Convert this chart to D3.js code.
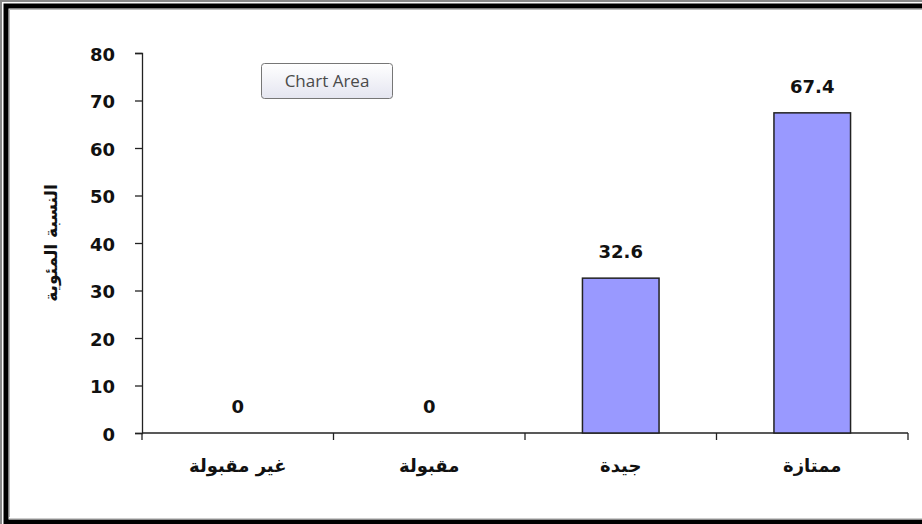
<!DOCTYPE html>
<html>
  <head>
    <meta charset="utf-8">
    <title>النسبة المئوية</title>
    <script src="https://cdn.jsdelivr.net/npm/d3@7"></script>
    <style>
      body { margin: 0; background: #fff; }
      svg { display: block; }
    </style>
  </head>
  <body>
    <script>

      // data
      var categories = ["غير مقبولة", "مقبولة", "جيدة", "ممتازة"];
      var values = [0, 0, 32.6, 67.4];
      var yTicks = [0, 10, 20, 30, 40, 50, 60, 70, 80];
      var yTitle = "النسبة المئوية";

      var width = 922, height = 524;
      var margin = {top: 53, left: 142, right: 14, bottom: 91};

      var rows = categories.map(function(c, i) { return {cat: c, value: values[i]}; });

      var svg = d3.select("body")
                  .append("svg")
                  .attr("width", width)
                  .attr("height", height);

      // frame round the chart (right side is cut off in the original)
      svg.append("path").attr("d", "M1,524V1H930").attr("fill", "none")
         .attr("stroke", "#8a8a8a").attr("stroke-width", 2);
      svg.append("path").attr("d", "M6,524V6H930").attr("fill", "none")
         .attr("stroke", "#000").attr("stroke-width", 5);
      svg.append("path").attr("d", "M9.5,517V9.5H930").attr("fill", "none")
         .attr("stroke", "#bbb").attr("stroke-width", 1);
      svg.append("line").attr("x1", 6).attr("x2", 930).attr("y1", 522).attr("y2", 522)
         .attr("stroke", "#000").attr("stroke-width", 5);
      svg.append("line").attr("x1", 9).attr("x2", 930).attr("y1", 519).attr("y2", 519)
         .attr("stroke", "#999").attr("stroke-width", 1);

      var x = d3.scaleBand()
                .domain(categories)
                .range([margin.left, width - margin.right])
                .paddingInner(0.6)
                .paddingOuter(0.3);

      var xEdges = d3.scaleBand()
                .domain(categories)
                .range([margin.left, width - margin.right]);

      var y = d3.scaleLinear()
                .domain([0, 80])
                .range([height - margin.bottom, margin.top]);

      var font = "'DejaVu Sans', sans-serif";

      // y axis
      var yAxis = svg.append("g")
                     .attr("transform", "translate(" + margin.left + ",0)")
                     .call(d3.axisLeft(y).tickValues(yTicks).tickSize(7).tickPadding(20));
      yAxis.select(".domain").attr("stroke", "#222").attr("stroke-width", 1.3);
      yAxis.selectAll(".tick line").attr("stroke", "#222").attr("stroke-width", 1.3);
      yAxis.selectAll(".tick text")
           .attr("font-family", font)
           .attr("font-weight", "bold")
           .attr("font-size", 18)
           .attr("fill", "#111")
           .attr("dy", "0.40em");

      // x axis: ticks sit between the categories
      var xg = svg.append("g").attr("transform", "translate(0," + y(0) + ")");
      xg.append("line")
        .attr("x1", margin.left).attr("x2", width - margin.right)
        .attr("stroke", "#222").attr("stroke-width", 1.3);
      var edges = categories.map(function(c) { return xEdges(c); });
      edges.push(xEdges(categories[categories.length - 1]) + xEdges.bandwidth());
      xg.selectAll(".xtick")
        .data(edges)
        .enter()
        .append("line")
        .attr("class", "xtick")
        .attr("x1", function(d) { return d; })
        .attr("x2", function(d) { return d; })
        .attr("y1", 0).attr("y2", 7)
        .attr("stroke", "#222").attr("stroke-width", 1.3);
      xg.selectAll(".xlabel")
        .data(categories)
        .enter()
        .append("text")
        .attr("class", "xlabel")
        .attr("x", function(d) { return xEdges(d) + xEdges.bandwidth() / 2; })
        .attr("y", 39)
        .attr("text-anchor", "middle")
        .attr("direction", "rtl")
        .attr("font-family", font)
        .attr("font-weight", "bold")
        .attr("font-size", 18)
        .attr("fill", "#111")
        .text(function(d) { return d; });

      // bars (zero values draw nothing)
      svg.selectAll(".bar")
         .data(rows.filter(function(d) { return d.value > 0; }))
         .enter()
         .append("rect")
         .attr("class", "bar")
         .attr("x", function(d) { return x(d.cat); })
         .attr("y", function(d) { return y(d.value); })
         .attr("width", x.bandwidth())
         .attr("height", function(d) { return y(0) - y(d.value); })
         .attr("fill", "#9999ff")
         .attr("stroke", "#222")
         .attr("stroke-width", 1.5);

      // value labels
      svg.selectAll(".val")
         .data(rows)
         .enter()
         .append("text")
         .attr("class", "val")
         .attr("x", function(d) { return x(d.cat) + x.bandwidth() / 2; })
         .attr("y", function(d) { return y(d.value) - 20; })
         .attr("text-anchor", "middle")
         .attr("font-family", font)
         .attr("font-weight", "bold")
         .attr("font-size", 18)
         .attr("fill", "#111")
         .text(function(d) { return d.value; });

      // y title
      svg.append("text")
         .attr("transform", "translate(57," + ((margin.top + y(0)) / 2) + ") rotate(-90)")
         .attr("text-anchor", "middle")
         .attr("direction", "rtl")
         .attr("font-family", font)
         .attr("font-weight", "bold")
         .attr("font-size", 17)
         .attr("fill", "#111")
         .text(yTitle);

      // "Chart Area" tooltip
      var grad = svg.append("defs").append("linearGradient")
                    .attr("id", "tip").attr("x1", 0).attr("x2", 0).attr("y1", 0).attr("y2", 1);
      grad.append("stop").attr("offset", "0%").attr("stop-color", "#ffffff");
      grad.append("stop").attr("offset", "100%").attr("stop-color", "#e4e5f0");
      var tip = svg.append("g").attr("transform", "translate(261,63)");
      tip.append("rect")
         .attr("x", 0.5).attr("y", 0.5).attr("width", 131).attr("height", 35)
         .attr("rx", 3)
         .attr("fill", "url(#tip)")
         .attr("stroke", "#767676");
      tip.append("text")
         .attr("x", 66).attr("y", 24)
         .attr("text-anchor", "middle")
         .attr("font-family", "'Open Sans', sans-serif")
         .attr("font-size", 17)
         .attr("fill", "#4a4a4a")
         .text("Chart Area");

    </script>
  </body>
</html>
